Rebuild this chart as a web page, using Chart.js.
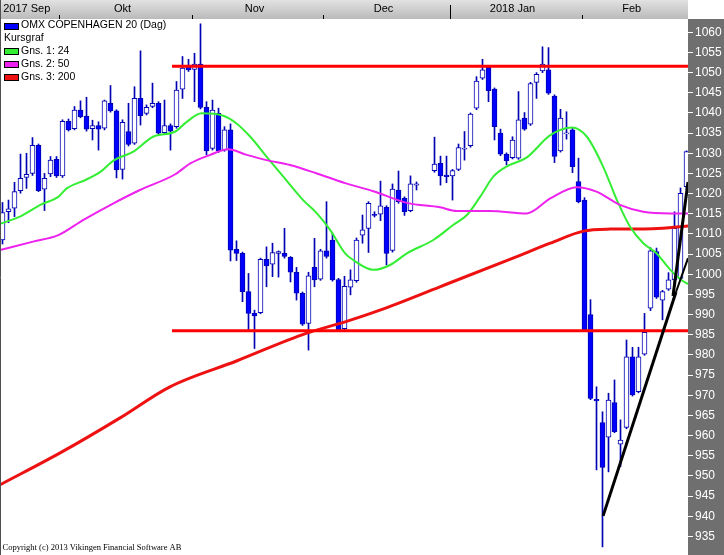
<!DOCTYPE html>
<html>
<head>
<meta charset="utf-8">
<title>OMX Copenhagen 20</title>
<script src="https://cdn.jsdelivr.net/npm/chart.js@4.4.1/dist/chart.umd.min.js"></script>
<style>
  html, body { margin: 0; padding: 0; background: #fff; }
  canvas { display: block; }
</style>
</head>
<body>
<canvas id="chart" width="724" height="555"></canvas>
<script>
// Daily candles, one slot per trading day (two empty slots over Christmas)
const opens = [
  1008.5, 1015.5, 1016.4, 1020.7, 1024.0, 1025.0, 1032.0, 1021.1, 1024.9, 1028.5,
  1024.4, 1037.9, 1036.1, 1040.7, 1039.2, 1036.1, 1036.9, 1036.2, 1042.4, 1040.5,
  1026.0, 1035.4, 1032.5, 1043.6, 1039.9, 1041.6, 1042.4, 1035.1, 1036.9, 1036.6,
  1045.9, 1051.5, 1050.8, 1052.1, 1041.4, 1031.2, 1039.9, 1030.8, 1035.8, 1006.2,
  1005.2, 995.7, 990.3, 990.5, 1003.7, 1002.5, 1005.2, 1005.2, 1004.2, 1000.5,
  995.3, 987.8, 1001.7, 998.8, 1005.8, 1008.5, 998.7, 986.5, 996.8, 998.4,
  1009.7, 1011.4, 1014.8, 1014.9, 1016.6, 1005.9, 1020.9, 1018.8, 1015.8, 1022.1,
  null, null, 1025.7, 1027.5, 1024.6, 1024.4, 1026.0, 1031.0, 1031.9, 1041.2,
  1048.6, 1051.3, 1045.9, 1035.0, 1029.8, 1028.9, 1028.8, 1038.7, 1037.2, 1047.6,
  1050.4, 1050.7, 1044.2, 1030.6, 1034.8, 1035.8, 1023.0, 1018.4, 990.0, 969.0,
  963.2, 959.6, 968.2, 957.9, 962.0, 979.5, 970.9, 980.2, 991.6, 1005.6,
  993.6, 996.3, 998.6, 999.0, 1021.7
];
const highs = [
  1017.8, 1018.4, 1022.8, 1029.8, 1030.0, 1033.9, 1032.3, 1025.0, 1029.2, 1029.2,
  1038.3, 1038.5, 1041.6, 1043.0, 1043.9, 1038.2, 1037.8, 1043.2, 1046.8, 1040.8,
  1038.3, 1042.4, 1046.5, 1055.4, 1042.0, 1047.4, 1042.8, 1043.2, 1037.3, 1047.8,
  1054.0, 1053.3, 1054.8, 1062.1, 1042.8, 1043.2, 1041.2, 1036.6, 1037.3, 1008.3,
  1005.5, 1000.2, 991.1, 1004.0, 1006.8, 1007.7, 1005.8, 1011.4, 1004.4, 1001.7,
  995.6, 1000.5, 1008.9, 1006.2, 1018.0, 1010.2, 999.0, 999.5, 1001.1, 1009.0,
  1014.7, 1018.0, 1015.5, 1023.1, 1017.0, 1022.4, 1025.6, 1019.2, 1024.4, 1022.9,
  null, null, 1034.0, 1029.3, 1029.3, 1026.0, 1032.3, 1035.4, 1040.0, 1049.0,
  1053.3, 1051.6, 1046.2, 1036.0, 1030.1, 1034.1, 1045.3, 1040.1, 1047.6, 1050.0,
  1056.4, 1056.2, 1044.5, 1040.9, 1040.3, 1036.2, 1028.8, 1019.0, 993.7, 972.1,
  965.9, 970.5, 973.8, 963.9, 983.7, 981.9, 981.9, 990.3, 1006.6, 1006.5,
  996.0, 1000.4, 1015.5, 1021.4, 1030.6
];
const lows = [
  1007.5, 1012.8, 1014.3, 1020.1, 1021.3, 1024.5, 1020.5, 1015.8, 1024.2, 1024.0,
  1024.0, 1035.5, 1035.8, 1038.8, 1035.5, 1033.3, 1030.8, 1035.8, 1040.2, 1023.9,
  1023.6, 1031.8, 1032.2, 1037.0, 1039.5, 1041.3, 1034.5, 1034.8, 1030.8, 1036.2,
  1043.6, 1050.3, 1042.8, 1041.0, 1029.6, 1030.8, 1030.2, 1030.5, 1003.3, 1003.4,
  993.2, 986.2, 981.6, 990.2, 996.9, 999.4, 999.3, 1004.0, 998.1, 993.6,
  987.3, 981.2, 996.9, 998.5, 1004.0, 998.3, 985.8, 986.0, 994.9, 998.0,
  1007.7, 1005.4, 1014.2, 1013.3, 1002.3, 1005.5, 1017.6, 1014.6, 1015.5, 1020.9,
  null, null, 1025.3, 1022.1, 1022.7, 1018.4, 1025.7, 1028.3, 1031.5, 1040.8,
  1048.3, 1042.8, 1033.3, 1029.4, 1027.1, 1028.6, 1028.5, 1035.7, 1036.9, 1043.6,
  1050.0, 1044.6, 1027.7, 1030.3, 1033.5, 1025.2, 1017.7, 985.9, 968.9, 951.5,
  932.4, 951.0, 960.7, 952.3, 961.7, 969.8, 970.6, 979.9, 991.0, 994.0,
  988.7, 996.0, 997.0, 998.6, 1021.0
];
const closes = [
  1015.3, 1016.2, 1020.5, 1023.8, 1024.8, 1032.0, 1020.7, 1023.8, 1028.3, 1024.4,
  1037.9, 1035.8, 1040.7, 1039.1, 1036.0, 1036.9, 1036.0, 1043.0, 1040.5, 1025.9,
  1037.7, 1032.2, 1043.6, 1039.3, 1041.4, 1042.4, 1035.0, 1036.9, 1035.5, 1045.7,
  1051.1, 1050.7, 1052.1, 1041.4, 1030.6, 1040.7, 1030.6, 1035.8, 1006.0, 1005.2,
  995.7, 990.3, 989.7, 1003.7, 1002.1, 1005.4, 1005.6, 1004.4, 1000.5, 995.3,
  987.6, 999.6, 998.6, 1005.8, 1004.4, 998.6, 986.2, 997.0, 998.6, 1008.5,
  1011.0, 1017.6, 1014.6, 1017.0, 1005.2, 1021.1, 1018.0, 1015.5, 1022.4, 1022.4,
  null, null, 1027.3, 1024.4, 1024.2, 1025.7, 1031.4, 1031.2, 1039.7, 1047.9,
  1050.7, 1045.5, 1036.6, 1029.8, 1028.2, 1033.3, 1038.3, 1036.0, 1047.3, 1049.6,
  1052.1, 1044.9, 1029.2, 1038.7, 1035.0, 1026.7, 1018.0, 986.2, 969.2, 968.6,
  952.1, 968.8, 961.0, 958.9, 979.5, 970.1, 979.5, 985.6, 1005.8, 994.3,
  995.7, 998.6, 1011.4, 1020.1, 1030.4
];

// Moving averages as [slot, value]
const ma24 = [
  [-0.4, 1012.5], [2.9, 1014.3], [6.3, 1017.2], [9.3, 1019.2], [10.7, 1021.3], [14.0, 1023.5],
  [16.3, 1025.4], [18.5, 1028.2], [21.8, 1030.4], [25.1, 1034.1], [28.8, 1035.4], [30.7, 1037.8],
  [33.2, 1039.9], [36.8, 1039.3], [39.0, 1037.4], [41.3, 1034.1], [44.0, 1029.2], [46.8, 1024.2],
  [50.1, 1018.4], [52.4, 1015.1], [54.6, 1011.0], [57.1, 1005.2], [58.5, 1003.5], [61.8, 1001.1],
  [64.6, 1002.3], [67.4, 1005.2], [71.8, 1008.5], [75.1, 1012.2], [77.4, 1014.7], [79.6, 1019.2],
  [81.8, 1024.2], [84.0, 1026.7], [87.4, 1029.0], [91.3, 1034.5], [94.9, 1036.4], [97.4, 1034.1],
  [100.1, 1026.7], [102.4, 1018.4], [104.6, 1011.8], [106.8, 1007.7], [109.0, 1005.2],
  [111.3, 1001.1], [113.5, 998.2], [114.3, 997.6]
];
const ma50 = [
  [-0.4, 1006.0], [5.1, 1008.1], [9.3, 1009.7], [13.5, 1013.5], [18.5, 1017.6], [22.9, 1020.9],
  [28.8, 1024.8], [31.3, 1027.5], [34.6, 1029.6], [37.6, 1031.0], [40.7, 1029.6], [44.0, 1028.3],
  [47.9, 1027.1], [52.4, 1025.0], [57.1, 1022.6], [61.8, 1020.6], [67.4, 1017.7], [72.9, 1016.6],
  [75.7, 1015.7], [81.3, 1015.7], [87.4, 1015.1], [91.3, 1018.8], [95.7, 1021.6], [99.0, 1020.5],
  [102.9, 1017.2], [106.8, 1015.5], [111.3, 1015.1], [114.3, 1015.1]
];
const ma200 = [
  [-0.4, 947.8], [9.6, 955.7], [19.6, 964.4], [27.9, 972.1], [39.0, 978.5], [50.7, 985.4],
  [57.1, 988.2], [62.9, 991.1], [72.9, 996.9], [85.4, 1004.2], [91.3, 1007.7], [96.8, 1010.7],
  [101.3, 1011.2], [108.4, 1011.3], [114.3, 1012.0]
];

// Drawn levels and trend lines
const resistance = 1051.6;
const support = 986.0;
const levelFrom = 28.25;
const trendMain = [[100.1, 940.1], [112.25, 995.6]];
const trendTail = [[112.25, 995.6], [114.25, 1004.0]];
const trendSteep = [[111.75, 994.6], [114.25, 1022.9]];

// Axis text
const monthLabels = ['2017 Sep', 'Okt', 'Nov', 'Dec', '2018 Jan', 'Feb'];
const monthStarts = [0, 10, 32, 54, 75, 97];
const yearStart = 75;
const legendLabels = ['OMX COPENHAGEN 20 (Dag)', 'Kursgraf', 'Gns. 1: 24', 'Gns. 2: 50', 'Gns. 3: 200'];
const legendColors = ['#0000ff', null, '#33ee33', '#ee22ee', '#ee1111'];
const copyright = 'Copyright (c) 2013 Vikingen Financial Software AB';

const FONT = '"Liberation Sans", Arial, sans-serif';
const candleBorder = '#0000b4';

const slots = opens.map((o, i) => i).filter(i => opens[i] !== null);
const wickData = slots.map(i => ({ x: i, y: [lows[i], highs[i]] }));
const bodyData = slots.map(i => ({ x: i, y: [opens[i], closes[i]] }));
const toXY = arr => arr.map(p => ({ x: p[0], y: p[1] }));
const xMax = 114.25;

function lineSet(data, color, width, order, smooth) {
  return {
    type: 'line', data: toXY(data), borderColor: color, borderWidth: width,
    pointRadius: 0, fill: false, order: order,
    cubicInterpolationMode: smooth ? 'monotone' : 'default', tension: 0
  };
}

const frame = {
  id: 'frame',
  beforeDraw(chart) {
    const { ctx, chartArea: a, width, height } = chart;
    ctx.save();
    ctx.fillStyle = '#ffffff';
    ctx.fillRect(0, 0, width, height);
    const g = ctx.createLinearGradient(0, 0, 0, a.top);
    g.addColorStop(0, '#e2e2e2');
    g.addColorStop(1, '#b8b8b8');
    ctx.fillStyle = g;
    ctx.fillRect(0, 0, a.right, a.top - 1);
    ctx.fillStyle = '#6f6f6f';
    ctx.fillRect(a.right, a.top - 1, width - a.right, height - a.top + 1);
    ctx.restore();
  },
  afterDraw(chart) {
    const { ctx, chartArea: a, scales } = chart;
    const x = scales.x;
    ctx.save();

    // month band
    ctx.strokeStyle = '#000000';
    ctx.lineWidth = 1;
    ctx.font = '11px ' + FONT;
    ctx.fillStyle = '#000000';
    ctx.textBaseline = 'middle';
    ctx.textAlign = 'left';
    const bounds = monthStarts.map(s => x.getPixelForValue(s - 0.5));
    bounds[0] = a.left;
    monthLabels.forEach((lab, i) => {
      const l = bounds[i];
      const r = i + 1 < bounds.length ? bounds[i + 1] : a.right;
      if (i > 0) {
        const px = Math.round(l) + 0.5;
        const top = monthStarts[i] === yearStart ? 5 : a.top - 5;
        ctx.beginPath();
        ctx.moveTo(px, top);
        ctx.lineTo(px, a.top - 1);
        ctx.stroke();
      }
      const w = ctx.measureText(lab).width;
      const left = Math.max(a.left + 2, (l + r) / 2 - 3 - w / 2);
      ctx.fillText(lab, left, 9);
    });

    // left frame line
    ctx.strokeStyle = '#505050';
    ctx.beginPath();
    ctx.moveTo(0.5, 0);
    ctx.lineTo(0.5, chart.height);
    ctx.stroke();

    // legend
    ctx.font = '10.5px ' + FONT;
    legendLabels.forEach((lab, i) => {
      const cy = 25.5 + i * 12.9;
      if (legendColors[i]) {
        ctx.fillStyle = legendColors[i];
        ctx.fillRect(4, Math.round(cy - 3), 15, 7);
        ctx.strokeStyle = '#000000';
        ctx.strokeRect(4.5, Math.round(cy - 3) + 0.5, 14, 6);
        ctx.fillStyle = '#000000';
        ctx.fillText(lab, 21, cy);
      } else {
        ctx.fillStyle = '#000000';
        ctx.fillText(lab, 4, cy);
      }
    });

    // copyright
    ctx.font = '8.5px "Liberation Serif", "Times New Roman", serif';
    ctx.textBaseline = 'alphabetic';
    ctx.fillStyle = '#000000';
    ctx.fillText(copyright, 2.5, 550);
    ctx.restore();
  }
};

new Chart(document.getElementById('chart'), {
  type: 'bar',
  data: {
    datasets: [
      {
        data: wickData, backgroundColor: candleBorder, barThickness: 1,
        grouped: false, order: 6
      },
      {
        data: bodyData, barThickness: 5, grouped: false, order: 5,
        minBarLength: 1, borderWidth: 1, borderSkipped: false, borderColor: candleBorder,
        backgroundColor: c => {
          const i = c.raw ? c.raw.x : 0;
          return closes[i] < opens[i] ? '#0000ff' : '#ffffff';
        }
      },
      lineSet(ma200, '#ee1111', 3, 4, true),
      lineSet(ma50, '#ee22ee', 2, 3, true),
      lineSet(ma24, '#33ee33', 2, 3, true),
      lineSet([[levelFrom, resistance], [xMax, resistance]], '#ff0000', 3, 2, false),
      lineSet([[levelFrom, support], [xMax, support]], '#ff0000', 3, 2, false),
      lineSet(trendMain, '#000000', 3, 1, false),
      lineSet(trendTail, '#000000', 2, 1, false),
      lineSet(trendSteep, '#000000', 3, 1, false)
    ]
  },
  options: {
    responsive: false,
    animation: false,
    events: [],
    layout: { padding: { top: 20, left: 0, right: 0, bottom: 0 } },
    plugins: { legend: { display: false }, tooltip: { enabled: false }, title: { display: false } },
    scales: {
      x: {
        type: 'linear', display: false, offset: false,
        min: -2.5 / 6, max: xMax
      },
      y: {
        position: 'right',
        min: 930.39, max: 1063.05,
        afterFit(s) { s.width = 36; s.paddingTop = 0; s.paddingBottom = 0; },
        grid: { drawOnChartArea: false, drawTicks: true, tickLength: 5, tickColor: '#ffffff' },
        border: { display: false },
        ticks: {
          stepSize: 5, includeBounds: false, autoSkip: false, padding: 2,
          color: '#ffffff', font: { family: FONT, size: 12 },
          callback: v => String(v)
        }
      }
    }
  },
  plugins: [frame]
});
</script>
</body>
</html>
